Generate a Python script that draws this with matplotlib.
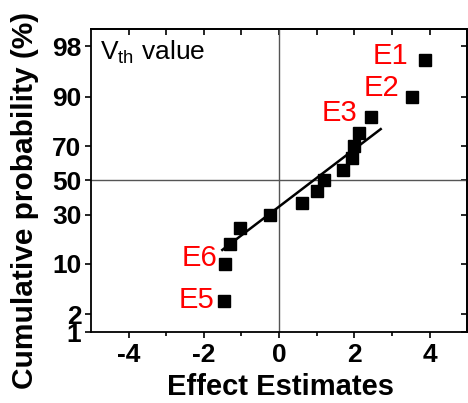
from statistics import NormalDist
import matplotlib
matplotlib.use("Agg")
import matplotlib.pyplot as plt

plt.rcParams["font.family"] = ["Liberation Sans", "DejaVu Sans"]
plt.rcParams["mathtext.fontset"] = "custom"
plt.rcParams["mathtext.rm"] = "Liberation Sans"

# effect estimates and cumulative probability (%)
efeitos = [-1.47, -1.43, -1.30, -1.03, -0.24, 0.62, 1.01, 1.20, 1.69, 1.95, 1.99, 2.12, 2.44, 3.54, 3.87]
prob = [3.2, 10.0, 16.5, 23.2, 30.0, 36.6, 43.3, 50.0, 56.6, 63.4, 70.0, 76.8, 83.4, 90.0, 96.8]

# fitted line end points
linha_x = [-1.51, 2.70]
linha_p = [14.3, 78.4]

rotulos = {14: "E1", 13: "E2", 12: "E3", 1: "E6", 0: "E5"}
desloc = {14: (-34, 4), 13: (-31, 9), 12: (-31, 4), 1: (-26, 6), 0: (-27, 1)}

yticks_p = [1, 2, 10, 30, 50, 70, 90, 98]
xticks = [-4, -2, 0, 2, 4]

nd = NormalDist()
def z(p):
    return nd.inv_cdf(p / 100.0)

fig = plt.figure(figsize=(4.68, 4.03), dpi=100)
ax = fig.add_axes([0.1944, 0.176, 0.804, 0.753])

ax.axvline(0, color="#555555", lw=1.0, zorder=1)
ax.axhline(0, color="#555555", lw=1.0, zorder=1)

ax.plot(linha_x, [z(p) for p in linha_p], color="black", lw=1.8, zorder=2)
ax.plot(efeitos, [z(p) for p in prob], "s", color="black", ms=9.2, zorder=3)

for i, txt in rotulos.items():
    ax.annotate(txt, (efeitos[i], z(prob[i])), xytext=desloc[i], textcoords="offset pixels",
                ha="center", va="center", color="red", fontsize=21)

ax.text(0.024, 0.968, r"V$_{\rm th}$ value", transform=ax.transAxes, ha="left", va="top", fontsize=19)

ax.set_xlim(-5, 5)
ax.set_ylim(z(1), z(99))
ax.set_xticks(xticks)
ax.set_xticks([-3, -1, 1, 3], minor=True)
ax.set_xticklabels([str(t) for t in xticks], fontsize=19, fontweight="bold")
ax.set_yticks([z(p) for p in yticks_p])
ax.set_yticklabels([str(p) for p in yticks_p], fontsize=19, fontweight="bold")
ax.tick_params(axis="both", which="major", direction="out", length=4, width=1.2, pad=4)
ax.tick_params(axis="x", which="minor", direction="out", length=3, width=1.2)
ax.tick_params(axis="y", pad=3)

# mirrored ticks on top/right pointing inward
sx = ax.secondary_xaxis("top")
sx.set_xticks([-4, -3, -2, -1, 0, 1, 2, 3, 4])
sx.set_xticklabels([])
sx.tick_params(direction="in", length=4, width=1.2)
sy = ax.secondary_yaxis("right")
sy.set_yticks([z(p) for p in yticks_p])
sy.set_yticklabels([])
sy.tick_params(direction="in", length=4, width=1.2)

for s in list(ax.spines.values()) + [sx.spines["top"], sy.spines["right"]]:
    s.set_linewidth(1.3)

fig.text(280.5 / 468, 1 - 395 / 403, "Effect Estimates", ha="center", va="baseline",
         fontsize=21, fontweight="bold")
fig.text(25 / 468, 1 - 200 / 403, "Cumulative probability (%)", ha="center", va="center",
         rotation=90, fontsize=21.5, fontweight="bold")

fig.savefig("out.png", dpi=100)
